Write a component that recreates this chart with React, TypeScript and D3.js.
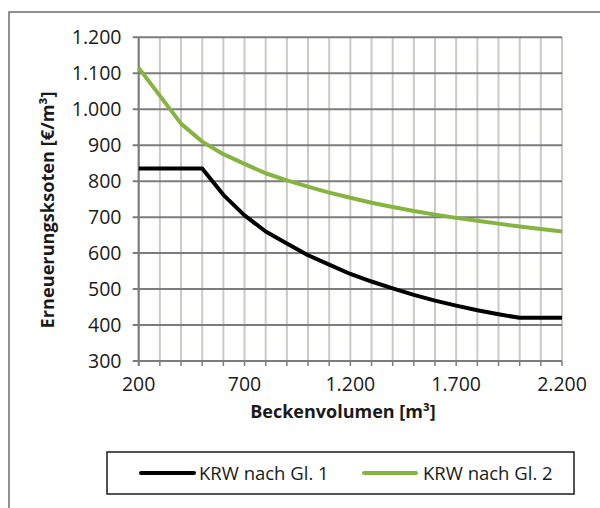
import React from "react";
import * as d3 from "d3";

const volumes1 = [200, 300, 400, 500, 600, 700, 800, 900, 1000, 1100, 1200, 1300, 1400, 1500, 1600, 1700, 1800, 1900, 2000, 2100, 2200];
const costs1 = [835, 835, 835, 835, 762, 705, 660, 627, 594, 568, 542, 521, 502, 484, 468, 454, 441, 430, 420, 420, 420];
const volumes2 = [200, 400, 500, 600, 700, 800, 900, 1000, 1100, 1200, 1300, 1400, 1500, 1600, 1700, 1800, 1900, 2000, 2100, 2200];
const costs2 = [1115, 960, 910, 875, 848, 822, 802, 785, 768, 754, 740, 728, 717, 707, 698, 690, 682, 674, 667, 660];
const xTicks = [200, 700, 1200, 1700, 2200];
const yTicks = [300, 400, 500, 600, 700, 800, 900, 1000, 1100, 1200];
const seriesNames = ["KRW nach Gl. 1", "KRW nach Gl. 2"];
const seriesColors = ["#000000", "#86b440"];

const fmt = (v: number) => d3.format(",")(v).replace(/,/g, ".");

export default function App() {
  const left = 138.7, right = 562, top = 37.3, bottom = 361;
  const x = d3.scaleLinear().domain([200, 2200]).range([left, right]);
  const y = d3.scaleLinear().domain([300, 1200]).range([bottom, top]);
  const minor = d3.range(200, 2201, 100);
  const line = d3.line<[number, number]>().x(d => x(d[0])).y(d => y(d[1]));
  const d1 = line(volumes1.map((v, i) => [v, costs1[i]] as [number, number])) || "";
  const d2 = line(volumes2.map((v, i) => [v, costs2[i]] as [number, number])) || "";
  const font = "'Open Sans', sans-serif";
  return (
    <svg width={600} height={508} style={{ position: "absolute", left: 0, top: 0, background: "#fff" }} fontFamily={font}>
      <rect x={0} y={0} width={600} height={508} fill="#fff" />
      <rect x={9} y={12} width={620} height={520} fill="none" stroke="#6e6e6e" strokeWidth={1.5} />
      {minor.map(v => (
        <line key={"v" + v} x1={x(v)} x2={x(v)} y1={top} y2={bottom} stroke="#cdc9c4" strokeWidth={2} />
      ))}
      {yTicks.map(v => (
        <line key={"h" + v} x1={left - 6} x2={right} y1={y(v)} y2={y(v)} stroke="#7d7b7b" strokeWidth={2} />
      ))}
      <line x1={left} x2={left} y1={top} y2={bottom + 5} stroke="#7d7b7b" strokeWidth={2} />
      {minor.map(v => (
        <line key={"t" + v} x1={x(v)} x2={x(v)} y1={bottom} y2={bottom + 5} stroke="#7d7b7b" strokeWidth={1.5} />
      ))}
      {yTicks.map(v => (
        <text key={"yl" + v} x={121.5} y={y(v) + 7} textAnchor="end" fontSize={19.5} fill="#1a1a1a">{fmt(v)}</text>
      ))}
      {xTicks.map(v => (
        <text key={"xl" + v} x={x(v)} y={391} textAnchor="middle" fontSize={19.5} fill="#1a1a1a">{fmt(v)}</text>
      ))}
      <text x={343} y={417.5} textAnchor="middle" fontSize={18} fontWeight="bold" fill="#1a1a1a">Beckenvolumen [m³]</text>
      <text transform="translate(54,210) rotate(-90)" textAnchor="middle" fontSize={18.2} fontWeight="bold" fill="#1a1a1a">Erneuerungsksoten [€/m³]</text>
      <path d={d1} fill="none" stroke={seriesColors[0]} strokeWidth={4} strokeLinejoin="round" />
      <path d={d2} fill="none" stroke={seriesColors[1]} strokeWidth={4} strokeLinejoin="round" />
      <rect x={107} y={452} width={467} height={42} fill="#fff" stroke="#1a1a1a" strokeWidth={1.5} />
      <line x1={141} x2={194} y1={473} y2={473} stroke={seriesColors[0]} strokeWidth={4} strokeLinecap="round" />
      <text x={199} y={479.5} fontSize={18.5} fill="#1a1a1a">{seriesNames[0]}</text>
      <line x1={364} x2={416} y1={473} y2={473} stroke={seriesColors[1]} strokeWidth={4} strokeLinecap="round" />
      <text x={423} y={479.5} fontSize={18.5} fill="#1a1a1a">{seriesNames[1]}</text>
    </svg>
  );
}
